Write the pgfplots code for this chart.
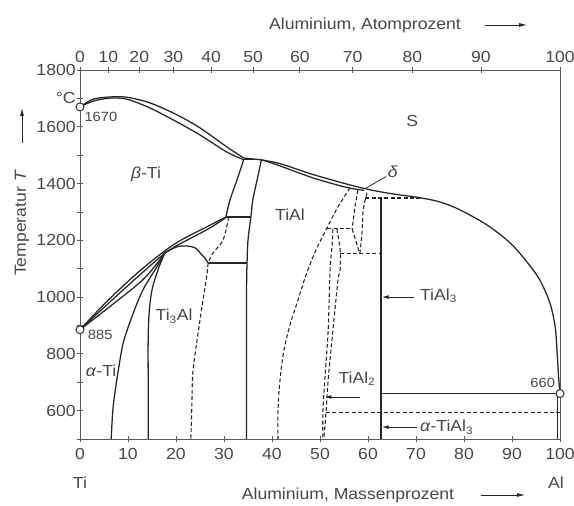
\documentclass[border=0pt]{standalone}
\usepackage{pgfplots}
\pgfplotsset{compat=1.18}
\usepackage{fontspec}
\setmainfont{Liberation Sans}[FakeStretch=1.1]
\usetikzlibrary{arrows.meta}
\definecolor{ln}{gray}{0.15}
\definecolor{tx}{gray}{0.28}
\definecolor{ax}{gray}{0.35}
\begin{document}
\begin{tikzpicture}[font=\fontsize{12}{14}\selectfont, text=tx]
\useasboundingbox (-60pt,-50.25pt) rectangle (370.5pt,329.25pt);
\pgfplotsset{
  base/.style={scale only axis, width=360pt, height=276.75pt,
    xmin=0,xmax=100,ymin=500,ymax=1800, clip=false,
    axis line style={ax, line width=0.7pt},
    tick style={ax, line width=0.6pt}, tick align=center, major tick length=4.5pt,
    tick label style={font=\fontsize{12}{14}\selectfont, text=tx},
  },
  sol/.style={ln, line width=0.95pt, smooth, tension=0.5, no markers},
  solS/.style={ln, line width=0.95pt, no markers},
  das/.style={ln, line width=0.8pt, dash pattern=on 3pt off 1.8pt, smooth, tension=0.5, no markers},
  dasS/.style={ln, line width=0.8pt, dash pattern=on 3pt off 1.8pt, no markers},
}
\begin{axis}[base,
  xtick={0,10,...,100}, xticklabels={0,10,20,30,40,50,60,70,80,90,100},
  xtick pos=bottom, ytick pos=left,
  ytick={500,600,...,1800},
  yticklabels={,600,,800,,1000,,1200,,1400,,1600,°C,1800},
  yticklabel style={xshift=2.5pt},
  xticklabel style={yshift=-1.5pt},
]
% liquidus
\addplot[sol] coordinates {(0,1670)(2.7,1697)(6.25,1705)(9.8,1704)(14.6,1684)(20.2,1642)(25,1596)(30.6,1529)(34.1,1490)};
\addplot[sol] coordinates {(34.1,1490)(37.8,1483)(41.7,1470)(48.5,1432)(55.6,1398)(60.4,1378)(65,1364)(70.8,1350)(75,1335)(79.2,1307)(84.8,1254)(89.6,1191)(93.1,1124)(95.8,1060)(97.9,979)(99,895)(99.4,803)(99.7,720)(100,660)};
% beta solidus
\addplot[sol] coordinates {(0,1670)(2.7,1690)(6.25,1701)(9.8,1697)(14.6,1666)(20.2,1617)(25,1571)(30.6,1511)(34.1,1484)};
\addplot[solS] coordinates {(34.1,1484)(37.8,1484)};
% TiAl solidus
\addplot[sol] coordinates {(37.8,1484)(41.7,1462)(48.5,1420)(55.6,1386)(59.2,1376)};
% beta / beta+TiAl
\addplot[sol] coordinates {(34.1,1484)(32.7,1413)(31.25,1342)(30.4,1282)};
% TiAl left boundary
\addplot[sol] coordinates {(37.8,1484)(36.9,1413)(36.0,1342)(35.6,1282)(35.0,1201)(34.8,1120)(34.7,1025)(34.7,800)(34.7,500)};
\addplot[solS] coordinates {(30.4,1282)(35.6,1282)};
\addplot[solS] coordinates {(26.7,1120)(34.8,1120)};
% band from 885
\addplot[sol] coordinates {(0,885)(5.8,988)(12.85,1098)(19.8,1188)(26.7,1250)(30.4,1282)};
\addplot[sol] coordinates {(0,885)(5.8,976)(12.85,1084)(17.7,1155)(19.8,1178)(26.7,1240)(30.4,1280)};
\addplot[sol] coordinates {(0,885)(5.8,961)(12.85,1057)(16.5,1128)(17.7,1157)};
% alpha solvus
\addplot[sol] coordinates {(17.7,1157)(16.0,1106)(13.1,1025)(10.8,930)(9.0,838)(7.9,733)(6.9,613)(6.5,500)};
% Ti3Al left
\addplot[sol] coordinates {(17.7,1157)(16.25,1096)(15.0,1025)(14.4,944)(14.2,849)(14.2,700)(14.2,500)};
% dome
\addplot[sol] coordinates {(17.7,1157)(20.2,1177)(22.3,1180)(24.0,1173)(25.2,1152)(26.0,1138)(26.7,1120)};
% dashed alpha2 right
\addplot[das] coordinates {(31.0,1282)(29.8,1201)(27.7,1155)(26.7,1120)(26.5,1085)(25.4,965)(24.4,849)(23.5,733)(23.3,613)(23.1,500)};
% TiAl right (dashed)
\addplot[das] coordinates {(56.25,1385)(53.75,1318)(51.46,1244)(49.17,1166)(47.08,1078)(45.42,990)(43.75,902)(42.5,814)(41.67,708)(41.25,602)(41.25,500)};
\addplot[dasS] coordinates {(51.5,1240)(56.7,1240)};
\addplot[das] coordinates {(57.9,1377)(57.3,1318)(56.7,1240)};
\addplot[dasS] coordinates {(56.7,1240)(58.3,1152)};
\addplot[das] coordinates {(59.8,1368)(59.0,1307)(58.75,1226)(58.3,1152)};
\addplot[dasS] coordinates {(54.2,1152)(62.7,1152)};
\addplot[dasS] coordinates {(59.4,1349)(71,1349)};
% TiAl2
\addplot[das] coordinates {(52.7,1240)(52.5,1177)(52.1,1096)(51.7,884)(51.0,708)(50.6,592)(50.6,500)};
\addplot[das] coordinates {(53.5,1240)(54.2,1166)(54.2,1096)(53.75,1060)(52.7,884)(51.7,708)(51.25,592)(50.8,500)};
% TiAl3
\addplot[solS] coordinates {(62.7,1349)(62.7,500)};
\addplot[solS] coordinates {(62.7,660)(100,660)};
\addplot[dasS] coordinates {(51.25,592)(100,592)};
\addplot[solS] coordinates {(99.5,660)(99.5,500)};
% points
\addplot[only marks, mark=*, mark size=3pt, mark options={fill=white, draw=ln, line width=0.7pt}] coordinates {(0,1670)(0,885)(100,660)};
% labels
\node at (axis cs:13.75,1434) {\textit{β}-Ti};
\node at (axis cs:43.75,1289) {TiAl};
\node at (axis cs:69.2,1620) {S};
\node at (axis cs:65.2,1440) {\textit{δ}};
\draw[ln, line width=0.6pt] (axis cs:59.4,1382) -- (axis cs:63.8,1425);
\node at (axis cs:19.6,933) {Ti\textsubscript{3}Al};
\node at (axis cs:4.4,740) {\textit{α}-Ti};
\node[anchor=west, inner sep=0pt] at (axis cs:70.8,1004) {TiAl\textsubscript{3}};
\draw[ln, line width=0.7pt, {Latex[length=5pt,width=3pt]}-] (axis cs:62.9,1000) -- (axis cs:69.6,1000);
\node at (axis cs:57.7,712) {TiAl\textsubscript{2}};
\draw[ln, line width=0.7pt, {Latex[length=5pt,width=3pt]}-] (axis cs:51.0,648) -- (axis cs:58.3,648);
\node[anchor=west, inner sep=0pt] at (axis cs:70.8,542) {\textit{α}-TiAl\textsubscript{3}};
\draw[ln, line width=0.7pt, {Latex[length=5pt,width=3pt]}-] (axis cs:62.9,542) -- (axis cs:70.2,542);
\node[anchor=west, inner sep=0pt, font=\fontsize{10}{11}\selectfont] at (axis cs:0.9,1636) {1670};
\node[anchor=west, inner sep=0pt, font=\fontsize{10}{11}\selectfont] at (axis cs:1.6,866) {885};
\node[anchor=east, inner sep=0pt, font=\fontsize{10}{11}\selectfont] at (axis cs:99.0,697) {660};
\end{axis}
\begin{axis}[base, axis x line*=top, axis y line=none,
  xtick={0,5.89,12.35,19.46,27.31,36.05,45.81,56.80,69.27,83.53,100},
  xticklabels={0,10,20,30,40,50,60,70,80,90,100},
]
\end{axis}
\begin{scope}[x=0.75pt,y=-0.75pt,shift={(-60pt,329.25pt)}]
\node[rotate=90, inner sep=0pt] at (22,223) {Temperatur \textit{T}};
\draw[ln,line width=0.6pt,-{Latex[length=6pt,width=3pt]}] (22,143) -- (22,108);
\node[inner sep=0pt] at (365,25) {Aluminium, Atomprozent};
\draw[ln,line width=0.6pt,-{Latex[length=6pt,width=3pt]}] (485,25) -- (527,25);
\node[inner sep=0pt] at (348,495) {Aluminium, Massenprozent};
\draw[ln,line width=0.6pt,-{Latex[length=6pt,width=3pt]}] (481,495) -- (525,495);
\node[inner sep=0pt] at (80,483) {Ti};
\node[inner sep=0pt] at (556,483) {Al};
\end{scope}
\end{tikzpicture}
\end{document}
